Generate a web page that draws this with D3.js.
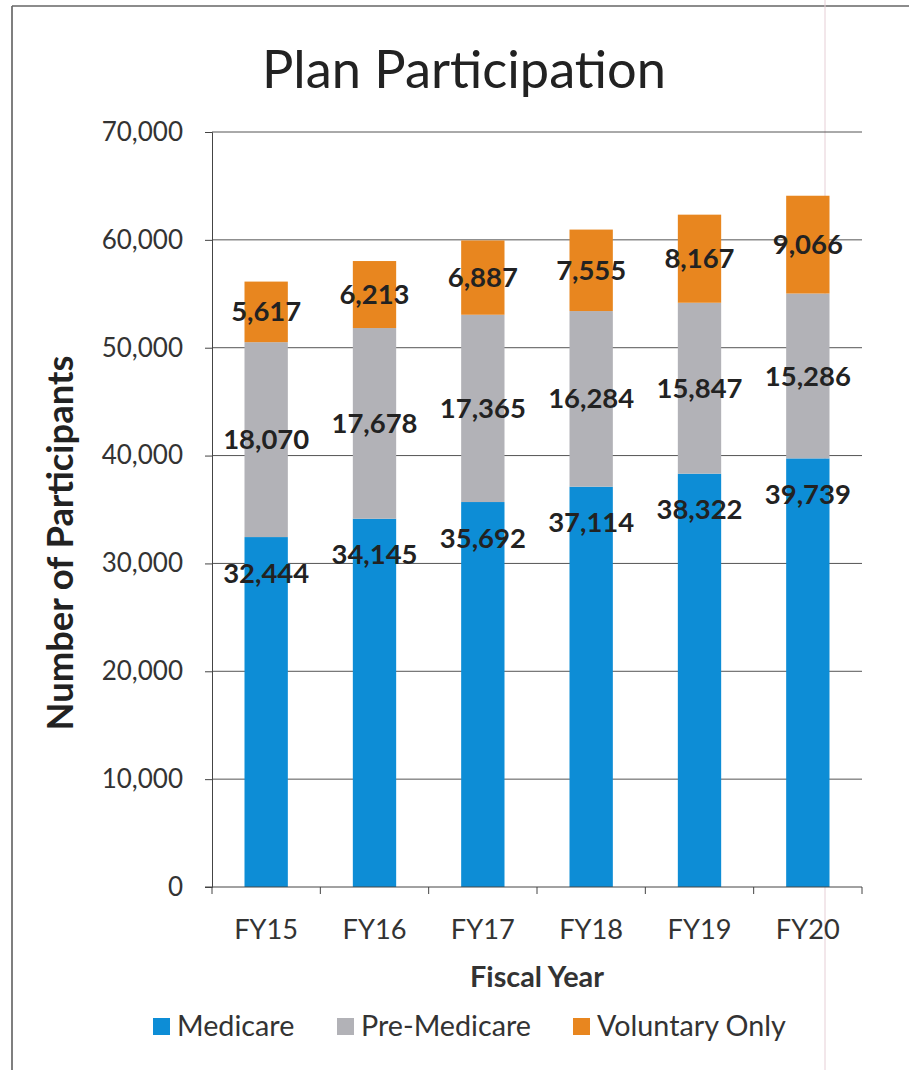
<!DOCTYPE html>
<html><head><meta charset="utf-8">
<script src="https://cdn.jsdelivr.net/npm/d3@7"></script>
<style>body{margin:0;background:#fff}svg{display:block}text{font-family:Lato,"Open Sans",sans-serif}</style>
</head><body>
<svg id="c" width="909" height="1070"></svg>
<script>
const categories = ["FY15","FY16","FY17","FY18","FY19","FY20"];
const medicare = [32444,34145,35692,37114,38322,39739];
const preMedicare = [18070,17678,17365,16284,15847,15286];
const voluntaryOnly = [5617,6213,6887,7555,8167,9066];
const seriesNames = ["Medicare","Pre-Medicare","Voluntary Only"];
const yTicks = [0,10000,20000,30000,40000,50000,60000,70000];
const colors = ["#0d8dd6","#b2b2b7","#e8861f"];

(function(){
const svg = d3.select("#c");
// frame (scan border)
svg.append("line").attr("x1",12).attr("x2",12).attr("y1",6).attr("y2",1070).attr("stroke","#555").attr("stroke-width",1.5);
svg.append("line").attr("x1",12).attr("x2",909).attr("y1",6).attr("y2",6).attr("stroke","#666").attr("stroke-width",1.5);
svg.append("line").attr("x1",825).attr("x2",825).attr("y1",0).attr("y2",1070).attr("stroke","#e6cfd6").attr("stroke-width",1);

const pL=212,pR=862,pT=132,pB=887;
const x = d3.scaleBand().domain(categories).range([pL,pR]).paddingInner(0.6).paddingOuter(0.3);
const y = d3.scaleLinear().domain([0,70000]).range([pB,pT]);

function fit(sel, target){
  const w = sel.node().getComputedTextLength();
  const fs = parseFloat(sel.attr("font-size"));
  sel.attr("font-size", fs*target/w);
  return sel;
}

// title
fit(svg.append("text").attr("x",464).attr("y",88).attr("text-anchor","middle").attr("font-size",44).attr("fill","#222").text("Plan Participation"),404);

// gridlines
svg.append("g").selectAll("line").data(yTicks.slice(1)).join("line")
  .attr("x1",pL).attr("x2",pR).attr("y1",d=>y(d)).attr("y2",d=>y(d))
  .attr("stroke","#555").attr("stroke-width",1);

// y axis
const yAxis = svg.append("g").attr("transform",`translate(${pL},0)`)
  .call(d3.axisLeft(y).tickValues(yTicks).tickFormat(d3.format(",")).tickSize(7).tickPadding(22));
yAxis.select(".domain").attr("stroke","#444");
yAxis.selectAll(".tick line").attr("stroke","#444");
yAxis.selectAll("text").attr("font-size",26).attr("fill","#333").attr("font-family","Lato");

// y title
const yt = svg.append("text").attr("transform","translate(73,543) rotate(-90)").attr("text-anchor","middle")
  .attr("font-size",26).attr("font-weight","bold").attr("fill","#222").text("Number of Participants");
fit(yt,375);

// stacked data
const rows = categories.map((c,i)=>({cat:c, Medicare:medicare[i], "Pre-Medicare":preMedicare[i], "Voluntary Only":voluntaryOnly[i]}));
const stack = d3.stack().keys(seriesNames)(rows);

svg.append("g").selectAll("g").data(stack).join("g").attr("fill",(d,i)=>colors[i])
  .selectAll("rect").data(d=>d).join("rect")
  .attr("x",d=>x(d.data.cat)).attr("width",x.bandwidth())
  .attr("y",d=>y(d[1])).attr("height",d=>y(d[0])-y(d[1]));

// x axis
const xAxis = svg.append("g").attr("transform",`translate(0,${pB})`);
xAxis.append("line").attr("x1",pL-7).attr("x2",pR).attr("stroke","#444");
const edges = categories.map(c=>x(c)-x.step()*x.paddingInner()/2).concat([pR]);
xAxis.selectAll(".xt").data(edges).join("line").attr("class","xt").attr("x1",d=>d).attr("x2",d=>d).attr("y1",0).attr("y2",7).attr("stroke","#444");
xAxis.selectAll(".xl").data(categories).join("text").attr("class","xl")
  .attr("x",d=>x(d)+x.bandwidth()/2).attr("y",52).attr("text-anchor","middle")
  .attr("font-size",25).attr("fill","#333").text(d=>d);
fit(xAxis.select(".xl"),64);
const xfs = xAxis.select(".xl").attr("font-size");
xAxis.selectAll(".xl").attr("font-size",xfs);

fit(svg.append("text").attr("x",537).attr("y",987).attr("text-anchor","middle").attr("font-size",24)
  .attr("font-weight","bold").attr("fill","#333").text("Fiscal Year"),134);

// data labels
const lab = svg.append("g");
stack.forEach((s,si)=>{
  lab.selectAll(".l"+si).data(s).join("text").attr("class","dl l"+si)
    .attr("x",d=>x(d.data.cat)+x.bandwidth()/2)
    .attr("y",d=> si===0 ? y(d[1])+36 : (y(d[0])+y(d[1]))/2)
    .attr("dy","0.35em").attr("text-anchor","middle")
    .attr("font-size",26).attr("font-weight","bold").attr("fill","#222")
    .text(d=>d3.format(",")(d[1]-d[0]));
});
const ref = lab.selectAll(".dl").filter((d,i)=>i===6); // 18,070
fit(ref,86);
lab.selectAll(".dl").attr("font-size",ref.attr("font-size"));

// legend
const legX = [153,337,573];
const lg = svg.append("g");
seriesNames.forEach((n,i)=>{
  lg.append("rect").attr("x",legX[i]).attr("y",1018).attr("width",17).attr("height",17).attr("fill",colors[i]);
  lg.append("text").attr("class","lt").attr("x",legX[i]+24).attr("y",1036).attr("font-size",26).attr("fill","#333").text(n);
});
const lt = lg.selectAll(".lt").filter((d,i)=>i===1);
fit(lt,170);
lg.selectAll(".lt").attr("font-size",lt.attr("font-size"));
})();
</script>
</body></html>
